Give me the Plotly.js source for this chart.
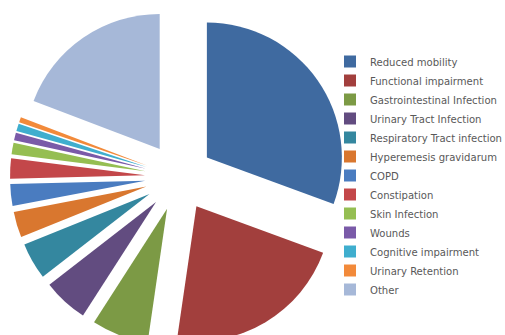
<!DOCTYPE html>
<html>
<head>
<meta charset="utf-8">
<script src="https://cdn.plot.ly/plotly-3.0.1.min.js"></script>
<style>
html,body{margin:0;padding:0;overflow:hidden;background:#fff;width:505px;height:335px;}
#chart{width:640px;height:400px;}
</style>
</head>
<body>
<div id="chart"></div>
<script>
var categories = ["Reduced mobility","Functional impairment","Gastrointestinal Infection","Urinary Tract Infection","Respiratory Tract infection","Hyperemesis gravidarum","COPD","Constipation","Skin Infection","Wounds","Cognitive impairment","Urinary Retention","Other"];
var values = [30.6, 21.7, 6.8, 5.4, 4.4, 3.1, 2.6, 2.4, 1.4, 0.9, 0.9, 0.6, 19.2];
var colors = ["#3F6AA0","#A23F3D","#7C9A45","#624C80","#34879F","#D9772F","#4A7CC0","#C3474A","#95BE52","#7A5AA8","#3FAECE","#F28A3A","#A6B8D8"];

var W = 640, H = 400;
var cx = 179, cy = 177, box = 338;
var trace = {
  type: 'pie',
  labels: categories,
  values: values,
  sort: false,
  direction: 'clockwise',
  rotation: 0,
  pull: 0.252,
  textinfo: 'none',
  hoverinfo: 'none',
  marker: {colors: colors, line: {width: 0}},
  domain: {x: [(cx - box/2)/W, (cx + box/2)/W], y: [1 - (cy + box/2)/H, 1 - (cy - box/2)/H]}
};
var layout = {
  width: W, height: H,
  margin: {l: 0, r: 0, t: 0, b: 0},
  paper_bgcolor: '#fff',
  showlegend: true,
  legend: {
    x: 330/W, xanchor: 'left', y: 1 - 47/H, yanchor: 'top',
    font: {family: '"DejaVu Sans Condensed", Lato, sans-serif', size: 11.2, color: '#595959'},
    traceorder: 'normal',
    bgcolor: 'rgba(0,0,0,0)'
  }
};
Plotly.newPlot('chart', [trace], layout, {staticPlot: true});
</script>
</body>
</html>
